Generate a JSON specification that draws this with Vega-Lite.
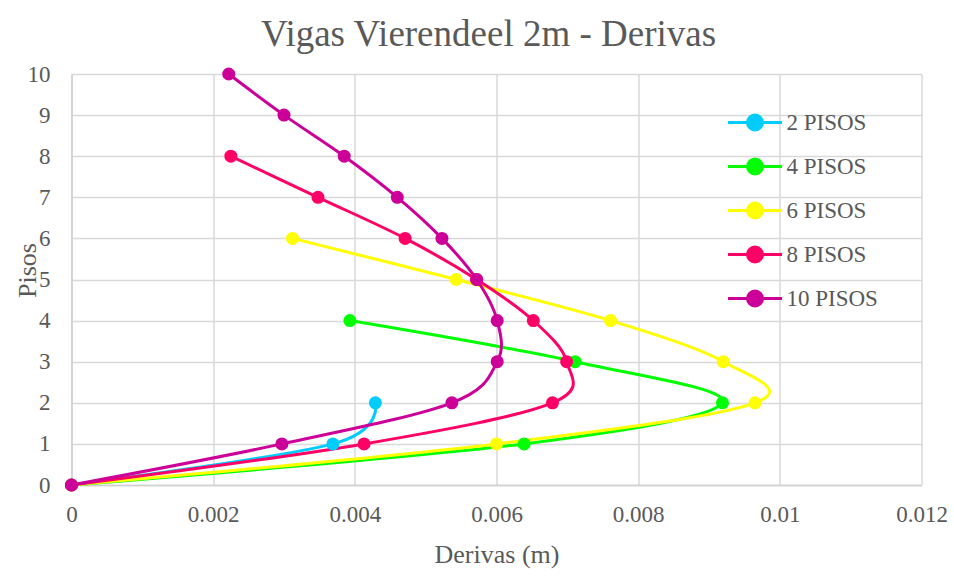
{
  "$schema": "https://vega.github.io/schema/vega-lite/v6.json",
  "autosize": "none",
  "width": 850,
  "height": 411,
  "padding": {"left": 71.5, "top": 74, "right": 32, "bottom": 92},
  "background": "white",
  "title": {"text": "Vigas Vierendeel 2m - Derivas", "font": "Liberation Serif", "fontSize": 37, "fontWeight": "normal", "color": "#595959", "baseline": "alphabetic", "offset": 27, "frame": "group", "anchor": "middle", "dx": -8, "dy": 47},
  "config": {
    "view": {"stroke": null},
    "font": "Liberation Serif",
    "axis": {"labelFont": "Liberation Serif", "titleFont": "Liberation Serif", "labelColor": "#595959", "titleColor": "#595959", "labelFontSize": 23, "titleFontSize": 26, "titleFontWeight": "normal", "gridColor": "#d9d9d9", "gridWidth": 1.5, "domainColor": "#d0d0d0", "domainWidth": 1.5, "ticks": false, "tickSize": 0}
  },
  "data": {"values": [
    {"serie": "2 PISOS", "piso": 0, "deriva": 0},
    {"serie": "2 PISOS", "piso": 1, "deriva": 0.00369},
    {"serie": "2 PISOS", "piso": 2, "deriva": 0.00429},
    {"serie": "4 PISOS", "piso": 0, "deriva": 0},
    {"serie": "4 PISOS", "piso": 1, "deriva": 0.00639},
    {"serie": "4 PISOS", "piso": 2, "deriva": 0.00919},
    {"serie": "4 PISOS", "piso": 3, "deriva": 0.00711},
    {"serie": "4 PISOS", "piso": 4, "deriva": 0.00393},
    {"serie": "6 PISOS", "piso": 0, "deriva": 0},
    {"serie": "6 PISOS", "piso": 1, "deriva": 0.0060},
    {"serie": "6 PISOS", "piso": 2, "deriva": 0.00965},
    {"serie": "6 PISOS", "piso": 3, "deriva": 0.0092},
    {"serie": "6 PISOS", "piso": 4, "deriva": 0.00761},
    {"serie": "6 PISOS", "piso": 5, "deriva": 0.00543},
    {"serie": "6 PISOS", "piso": 6, "deriva": 0.00312},
    {"serie": "8 PISOS", "piso": 0, "deriva": 0},
    {"serie": "8 PISOS", "piso": 1, "deriva": 0.00413},
    {"serie": "8 PISOS", "piso": 2, "deriva": 0.00679},
    {"serie": "8 PISOS", "piso": 3, "deriva": 0.00699},
    {"serie": "8 PISOS", "piso": 4, "deriva": 0.00652},
    {"serie": "8 PISOS", "piso": 5, "deriva": 0.00572},
    {"serie": "8 PISOS", "piso": 6, "deriva": 0.00471},
    {"serie": "8 PISOS", "piso": 7, "deriva": 0.00348},
    {"serie": "8 PISOS", "piso": 8, "deriva": 0.00225},
    {"serie": "10 PISOS", "piso": 0, "deriva": 0},
    {"serie": "10 PISOS", "piso": 1, "deriva": 0.00297},
    {"serie": "10 PISOS", "piso": 2, "deriva": 0.00537},
    {"serie": "10 PISOS", "piso": 3, "deriva": 0.00601},
    {"serie": "10 PISOS", "piso": 4, "deriva": 0.00601},
    {"serie": "10 PISOS", "piso": 5, "deriva": 0.00572},
    {"serie": "10 PISOS", "piso": 6, "deriva": 0.00523},
    {"serie": "10 PISOS", "piso": 7, "deriva": 0.0046},
    {"serie": "10 PISOS", "piso": 8, "deriva": 0.00385},
    {"serie": "10 PISOS", "piso": 9, "deriva": 0.0030},
    {"serie": "10 PISOS", "piso": 10, "deriva": 0.00222}
  ]},
  "encoding": {
    "x": {"field": "deriva", "type": "quantitative", "scale": {"domain": [0, 0.012], "nice": false, "zero": false},
      "axis": {"title": "Derivas (m)", "values": [0, 0.002, 0.004, 0.006, 0.008, 0.01, 0.012], "format": "~g", "labelPadding": 36, "labelBaseline": "alphabetic", "titleBaseline": "alphabetic", "titleY": 77, "labelFlush": false}},
    "y": {"field": "piso", "type": "quantitative", "scale": {"domain": [0, 10], "nice": false},
      "axis": {"title": "Pisos", "values": [0, 1, 2, 3, 4, 5, 6, 7, 8, 9, 10], "labelPadding": 21.5, "labelBaseline": "middle", "titleBaseline": "alphabetic", "titleAngle": 270, "titleAlign": "center", "titleX": -36.5, "titleY": 196, "labelFlush": false}},
    "color": {"field": "serie", "type": "nominal",
      "scale": {"domain": ["2 PISOS", "4 PISOS", "6 PISOS", "8 PISOS", "10 PISOS"], "range": ["#00ccff", "#00ff00", "#ffff00", "#ff0066", "#cc0099"]},
      "legend": {"orient": "none", "legendX": 672, "legendY": 37, "title": null, "padding": 0,
        "symbolType": "M-2.7,0L2.7,0M0.75,0A0.75,0.75,0,1,1,-0.75,0A0.75,0.75,0,1,1,0.75,0",
        "symbolSize": 400, "symbolStrokeWidth": 3, "labelFontSize": 23, "labelOffset": 20, "rowPadding": 17,
        "labelFont": "Liberation Serif", "labelColor": "#595959", "labelBaseline": "middle",
        "encode": {"symbols": {"update": {"fill": {"scale": "color", "field": "value"}, "stroke": {"scale": "color", "field": "value"}, "opacity": {"value": 1}}}}}}
  },
  "layer": [
    {"mark": {"type": "line", "interpolate": "cardinal", "strokeWidth": 3}, "encoding": {"order": {"field": "piso", "type": "quantitative"}}},
    {"mark": {"type": "point", "filled": true, "size": 170, "opacity": 1}, "encoding": {}}
  ]
}
